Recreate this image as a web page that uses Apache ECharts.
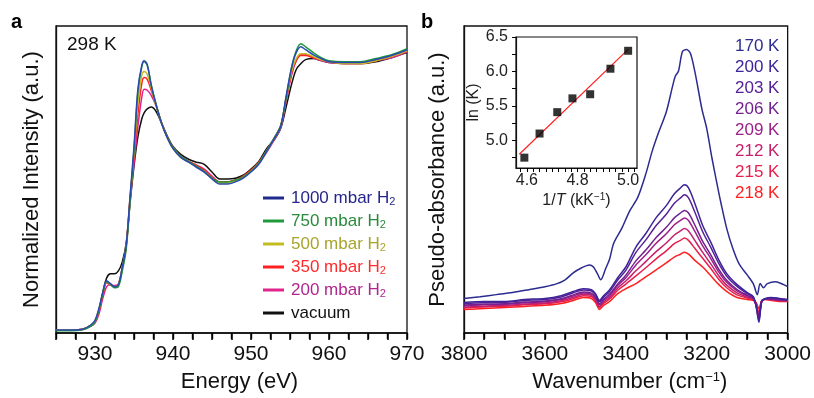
<!DOCTYPE html>
<html><head><meta charset="utf-8">
<script src="https://cdn.jsdelivr.net/npm/echarts@6/dist/echarts.min.js"></script>
<style>html,body{margin:0;padding:0;background:#fff}#c{width:814px;height:398px}</style>
</head><body><div id="c"></div>
<script>
// ---------- Panel a : Cu L-edge XAS (normalized intensity vs energy) ----------
const energy = [925,927,928.5,929.5,930,930.5,931,931.5,932,932.5,933,933.5,934,934.5,935,935.5,936,936.3,936.7,937.2,937.8,938.5,939.3,940,941,942,943,944,945,946,947,948,949,950,951,952,953,953.8,954.5,955.2,955.8,956.4,957,958,959,960,962,964,966,968,970];
const xas1000 = [0,0,0.004,0.020,0.037,0.081,0.141,0.185,0.174,0.163,0.170,0.237,0.319,0.504,0.689,0.904,0.993,1.011,0.996,0.919,0.848,0.778,0.719,0.681,0.648,0.630,0.611,0.593,0.567,0.548,0.548,0.556,0.570,0.593,0.622,0.670,0.719,0.763,0.878,0.985,1.041,1.063,1.052,1.033,1.019,1.007,1.004,1.004,1.015,1.030,1.052];
const xas750  = [-0.003,-0.003,0.002,0.015,0.030,0.074,0.137,0.181,0.170,0.159,0.163,0.222,0.304,0.485,0.674,0.893,0.989,1.007,0.993,0.922,0.852,0.781,0.722,0.685,0.652,0.633,0.615,0.596,0.570,0.556,0.556,0.563,0.574,0.596,0.626,0.674,0.722,0.767,0.870,0.985,1.048,1.074,1.063,1.041,1.022,1.011,1.007,1.007,1.019,1.033,1.056];
const xas500  = [0,0,0.004,0.019,0.033,0.077,0.137,0.181,0.172,0.163,0.170,0.235,0.317,0.496,0.670,0.852,0.956,0.970,0.959,0.911,0.844,0.778,0.719,0.681,0.648,0.630,0.613,0.596,0.570,0.552,0.552,0.559,0.574,0.596,0.626,0.670,0.719,0.763,0.870,0.970,1.019,1.037,1.037,1.026,1.015,1.007,1.000,1.000,1.011,1.026,1.048];
const xas350  = [0,0,0.004,0.017,0.030,0.070,0.130,0.178,0.170,0.163,0.170,0.233,0.315,0.496,0.652,0.811,0.926,0.948,0.941,0.900,0.848,0.781,0.722,0.685,0.652,0.633,0.619,0.600,0.574,0.556,0.556,0.563,0.578,0.600,0.630,0.674,0.722,0.767,0.867,0.963,1.011,1.030,1.030,1.022,1.015,1.007,1.000,1.000,1.011,1.026,1.048];
const xas200  = [0,0,0.002,0.015,0.026,0.059,0.119,0.163,0.170,0.167,0.174,0.233,0.315,0.489,0.626,0.763,0.874,0.904,0.900,0.881,0.844,0.781,0.722,0.685,0.652,0.633,0.619,0.604,0.578,0.556,0.556,0.563,0.574,0.596,0.626,0.667,0.715,0.759,0.859,0.956,1.011,1.033,1.033,1.022,1.011,1.004,1.000,1.000,1.011,1.022,1.044];
const xasVac  = [0,0,0.004,0.019,0.033,0.074,0.141,0.196,0.211,0.211,0.222,0.256,0.326,0.478,0.615,0.726,0.793,0.815,0.830,0.837,0.822,0.778,0.726,0.689,0.659,0.641,0.630,0.622,0.593,0.567,0.567,0.570,0.581,0.604,0.633,0.681,0.715,0.756,0.837,0.922,0.978,1.000,1.015,1.019,1.011,1.004,1.000,1.000,1.007,1.022,1.041];
const xasNames = ['1000 mbar H2','750 mbar H2','500 mbar H2','350 mbar H2','200 mbar H2','vacuum'];
const energyTicks = [930,940,950,960,970];

// ---------- Panel b : IR pseudo-absorbance vs wavenumber ----------
const wn170 = [3800,3760,3720,3680,3640,3600,3570,3550,3530,3510,3490,3480,3470,3462,3450,3440,3430,3410,3390,3370,3350,3335,3320,3300,3285,3278,3270,3260,3250,3240,3228,3212,3200,3187,3175,3165,3150,3135,3120,3100,3085,3075,3068,3060,3050,3030,3010,3000];
const ir170 = [0.035,0.042,0.050,0.058,0.069,0.081,0.093,0.108,0.135,0.154,0.166,0.158,0.131,0.108,0.151,0.189,0.251,0.309,0.378,0.432,0.525,0.610,0.680,0.764,0.861,0.903,0.923,1.000,1.008,0.992,0.911,0.776,0.699,0.583,0.486,0.409,0.305,0.228,0.170,0.127,0.093,0.050,0.093,0.077,0.093,0.100,0.089,0.081];
const wn = [3800,3750,3700,3650,3600,3560,3530,3505,3485,3475,3465,3455,3440,3420,3400,3375,3350,3325,3300,3280,3265,3255,3245,3230,3210,3190,3170,3150,3125,3100,3085,3078,3071,3064,3055,3040,3020,3000];
const ir200 = [0.019,0.023,0.023,0.031,0.035,0.046,0.062,0.073,0.069,0.054,0.027,0.046,0.069,0.116,0.158,0.236,0.290,0.351,0.398,0.444,0.467,0.479,0.467,0.409,0.320,0.255,0.185,0.131,0.089,0.058,0.042,0.004,-0.058,0.023,0.035,0.039,0.035,0.031];
const ir203 = [0.015,0.019,0.020,0.027,0.031,0.041,0.057,0.068,0.064,0.049,0.022,0.040,0.062,0.107,0.145,0.215,0.265,0.320,0.364,0.407,0.428,0.440,0.428,0.375,0.296,0.235,0.171,0.121,0.082,0.054,0.040,0.006,-0.050,0.024,0.034,0.037,0.033,0.030];
const ir206 = [0.009,0.013,0.014,0.021,0.025,0.034,0.049,0.060,0.056,0.041,0.014,0.032,0.052,0.092,0.126,0.182,0.225,0.273,0.313,0.350,0.369,0.379,0.369,0.324,0.258,0.205,0.149,0.105,0.070,0.048,0.036,0.008,-0.040,0.025,0.033,0.034,0.030,0.028];
const ir209 = [0.006,0.010,0.012,0.018,0.022,0.031,0.045,0.056,0.052,0.037,0.010,0.027,0.046,0.086,0.116,0.166,0.207,0.251,0.288,0.323,0.340,0.350,0.340,0.299,0.241,0.191,0.138,0.097,0.065,0.045,0.035,0.010,-0.035,0.025,0.033,0.033,0.029,0.027];
const ir212 = [0.001,0.005,0.008,0.013,0.017,0.026,0.039,0.051,0.047,0.031,0.004,0.021,0.039,0.076,0.103,0.143,0.180,0.218,0.252,0.283,0.299,0.308,0.299,0.263,0.215,0.170,0.123,0.086,0.057,0.040,0.032,0.012,-0.030,0.026,0.032,0.031,0.027,0.026];
const ir215 = [-0.002,0.002,0.005,0.010,0.014,0.022,0.034,0.046,0.042,0.026,-0.001,0.016,0.033,0.067,0.091,0.123,0.156,0.190,0.221,0.249,0.262,0.271,0.262,0.232,0.192,0.152,0.109,0.076,0.049,0.037,0.030,0.016,-0.020,0.026,0.032,0.030,0.026,0.025];
const ir218 = [-0.008,-0.004,0.000,0.004,0.008,0.015,0.027,0.039,0.035,0.019,-0.008,0.008,0.023,0.054,0.073,0.093,0.120,0.147,0.174,0.197,0.208,0.216,0.208,0.185,0.158,0.124,0.089,0.062,0.039,0.031,0.027,0.019,-0.004,0.027,0.031,0.027,0.023,0.023];
const tempNames = ['170 K','200 K','203 K','206 K','209 K','212 K','215 K','218 K'];

// ---------- Inset : van't Hoff plot ----------
const invT = [4.59,4.65,4.72,4.78,4.85,4.93,5.00];
const lnK  = [4.75,5.10,5.41,5.61,5.67,6.04,6.30];
const fitX = [4.57,5.00];
const fitY = [4.80,6.32];
const insetXLabels = [4.6,4.8,5.0];
const insetXTicks = [4.575,4.6,4.625,4.65,4.675,4.7,4.725,4.75,4.775,4.8,4.825,4.85,4.875,4.9,4.925,4.95,4.975,5.0,5.025];
const insetYLabels = [5.0,5.5,6.0,6.5];
const insetYTicks = [4.75,5.0,5.25,5.5,5.75,6.0,6.25,6.5];

const FF = 'Liberation Sans, Arial, Helvetica, sans-serif';
const AX = '#111';
const xasColors = ['#2a48b0','#1f9a3c','#c4bd22','#ff2121','#e0258e','#111111'];
const xasLegendText = ['#25258c','#2a8a3c','#a8a42c','#ff2a2a','#b0268e','#111111'];
const irColors = ['#2b2b90','#3d2499','#562096','#73208f','#9c2188','#c41f6c','#e81e4c','#ff2020'];
const xasData = [xas1000,xas750,xas500,xas350,xas200,xasVac];
const irData = [ir170,ir200,ir203,ir206,ir209,ir212,ir215,ir218];

const chart = echarts.init(document.getElementById('c'), null, {renderer:'canvas'});

const series = [];
for (let k = xasNames.length - 1; k >= 0; k--) {
  series.push({
    name: xasNames[k], type:'line', xAxisIndex:0, yAxisIndex:0,
    data: energy.map((e,i)=>[e, xasData[k][i]]),
    showSymbol:false, symbol:'none', smooth:0.35,
    lineStyle:{color:xasColors[k], width:1.5}, itemStyle:{color:xasColors[k]},
    z: 10 + (xasNames.length - k)
  });
}
for (let k = tempNames.length - 1; k >= 0; k--) {
  const xs = k === 0 ? wn170 : wn;
  series.push({
    name: tempNames[k], type:'line', xAxisIndex:1, yAxisIndex:1,
    data: xs.map((w,i)=>[w, irData[k][i]]),
    showSymbol:false, symbol:'none', smooth:0.3,
    lineStyle:{color:irColors[k], width:1.5}, itemStyle:{color:irColors[k]},
    z: 10 + (tempNames.length - k)
  });
}
series.push({
  name:'fit', type:'line', xAxisIndex:2, yAxisIndex:2,
  data: fitX.map((x,i)=>[x, fitY[i]]), showSymbol:false, symbol:'none',
  lineStyle:{color:'#ff2020', width:1.2}, z:20
});
series.push({
  name:'lnK', type:'scatter', xAxisIndex:2, yAxisIndex:2,
  data: invT.map((x,i)=>[x, lnK[i]]), symbol:'rect', symbolSize:8,
  itemStyle:{color:'#000'}, z:21
});

// tick-only companion axis (same scale as the labelled axis of a panel)
function tickAxis(gridIndex, min, max, interval, split, inverse) {
  return {gridIndex, type:'value', min, max, interval, inverse, position:'bottom', offset:0, z:50,
    axisLine:{show:false, onZero:false},
    axisTick:{show:true, inside:false, length:7, lineStyle:{color:'#000', width:1.5}},
    minorTick:{show:true, splitNumber:split, length:7, lineStyle:{color:'#000', width:1.5}},
    axisLabel:{show:false}, splitLine:{show:false}, minorSplitLine:{show:false}};
}

const option = {
  animation:false,
  backgroundColor:'#fff',
  textStyle:{fontFamily:FF},
  grid:[
    {left:56, top:26, width:351, height:311, show:true, borderColor:AX, borderWidth:1.3},
    {left:464, top:26, width:325, height:311, show:true, borderColor:AX, borderWidth:1.3},
    {left:516, top:37, width:121, height:131, show:true, borderColor:AX, borderWidth:1.2, backgroundColor:'#fff'}
  ],
  xAxis:[
    {gridIndex:0, type:'value', min:925, max:970, interval:5, position:'bottom',
     axisLine:{show:true, onZero:false, lineStyle:{color:AX, width:1.5}},
     axisTick:{show:true, inside:false, length:6, lineStyle:{color:'#000', width:1.4}},
     minorTick:{show:true, splitNumber:2, length:6, lineStyle:{color:'#000', width:1.4}},
     splitLine:{show:false},
     axisLabel:{fontSize:21, color:'#111', margin:11, fontFamily:FF, showMaxLabel:true,
       formatter:v=> energyTicks.indexOf(v) >= 0 ? String(v) : ''},
     name:'Energy (eV)', nameLocation:'middle', nameGap:38,
     nameTextStyle:{fontSize:22, color:'#111', fontFamily:FF, padding:[0,0,0,16]}},
    {gridIndex:1, type:'value', min:3000, max:3800, interval:200, inverse:true, position:'bottom',
     axisLine:{show:true, onZero:false, lineStyle:{color:AX, width:1.5}},
     axisTick:{show:true, inside:false, length:6, lineStyle:{color:'#000', width:1.4}},
     minorTick:{show:true, splitNumber:4, length:6, lineStyle:{color:'#000', width:1.4}},
     splitLine:{show:false},
     axisLabel:{fontSize:21, color:'#111', margin:11, fontFamily:FF, showMinLabel:true, showMaxLabel:true,
       formatter:v=>String(v)},
     name:'Wavenumber (cm{sup|\u22121})', nameLocation:'middle', nameGap:38,
     nameTextStyle:{fontSize:22, color:'#111', fontFamily:FF, padding:[0,0,0,8],
       rich:{sup:{fontSize:13, fontFamily:FF, color:'#111', padding:[0,0,9,0]}}}},
    {gridIndex:2, type:'value', min:4.557, max:5.035, position:'bottom',
     axisLine:{show:true, onZero:false, lineStyle:{color:AX, width:1.2}},
     axisTick:{show:true, inside:false, length:4, customValues:insetXTicks, lineStyle:{color:'#000', width:1}},
     splitLine:{show:false},
     axisLabel:{fontSize:16, color:'#222', margin:5, fontFamily:FF, customValues:insetXLabels,
       formatter:v=>v.toFixed(1)},
     name:'{n|1/}{i|T}{n| (kK}{s|\u22121}{n|)}', nameLocation:'middle', nameGap:24,
     nameTextStyle:{fontSize:16, color:'#222', fontFamily:FF,
       rich:{n:{fontSize:16, fontFamily:FF, color:'#222'},
             i:{fontSize:16, fontFamily:FF, color:'#222', fontStyle:'italic'},
             s:{fontSize:10, fontFamily:FF, color:'#222', padding:[0,0,7,0]}}}},
    tickAxis(0, 925, 970, 5, 2, false),
    tickAxis(1, 3000, 3800, 200, 4, true)
  ],
  yAxis:[
    {gridIndex:0, type:'value', min:-0.011, max:1.141,
     axisLine:{show:true, onZero:false, lineStyle:{color:AX, width:1.3}},
     axisTick:{show:false}, axisLabel:{show:false}, splitLine:{show:false},
     name:'Normalized Intensity (a.u.)', nameLocation:'middle', nameGap:13,
     nameTextStyle:{fontSize:22, color:'#111', fontFamily:FF}},
    {gridIndex:1, type:'value', min:-0.1, max:1.1,
     axisLine:{show:true, onZero:false, lineStyle:{color:AX, width:1.3}},
     axisTick:{show:false}, axisLabel:{show:false}, splitLine:{show:false},
     name:'Pseudo-absorbance (a.u.)', nameLocation:'middle', nameGap:15,
     nameTextStyle:{fontSize:22, color:'#111', fontFamily:FF}},
    {gridIndex:2, type:'value', min:4.6, max:6.5,
     axisLine:{show:true, onZero:false, lineStyle:{color:AX, width:1.2}},
     axisTick:{show:true, inside:false, length:4, customValues:insetYTicks, lineStyle:{color:'#000', width:1}},
     splitLine:{show:false},
     axisLabel:{fontSize:16, color:'#222', margin:8, fontFamily:FF, customValues:insetYLabels,
       formatter:v=>v.toFixed(1)},
     name:'ln (K)', nameLocation:'middle', nameGap:28,
     nameTextStyle:{fontSize:16, color:'#222', fontFamily:FF}}
  ],
  legend:[
    {orient:'vertical', left:258, top:183, itemWidth:21, itemHeight:3, icon:'rect', itemGap:3,
     selectedMode:false,
     data: xasNames.map((n,k)=>({name:n, textStyle:{color:xasLegendText[k]},
        itemStyle:{color: k===0 ? '#1f2a8f' : xasColors[k]}})),
     formatter: n => n.slice(-2) === 'H2' ? '{t|' + n.slice(0,-1) + '}{sub|2}' : n,
     textStyle:{fontSize:17, fontFamily:FF, lineHeight:20, padding:[0,0,0,2],
       rich:{t:{fontSize:17, fontFamily:FF}, sub:{fontSize:11, fontFamily:FF, padding:[8,0,0,0]}}}},
    {orient:'vertical', left:725, top:31, itemWidth:0, itemHeight:0, icon:'rect', itemGap:0,
     selectedMode:false,
     data: tempNames.map((n,k)=>({name:n, textStyle:{color:irColors[k]}})),
     textStyle:{fontSize:17, fontFamily:FF, lineHeight:21}}
  ],
  graphic:[
    {type:'text', left:11, top:12, style:{text:'a', font:'bold 20px ' + FF, fill:'#000'}},
    {type:'text', left:421, top:12, style:{text:'b', font:'bold 20px ' + FF, fill:'#000'}},
    {type:'text', left:67, top:35, style:{text:'298 K', font:'19px ' + FF, fill:'#111'}}
  ],
  series: series
};
chart.setOption(option);
</script>
</body></html>
